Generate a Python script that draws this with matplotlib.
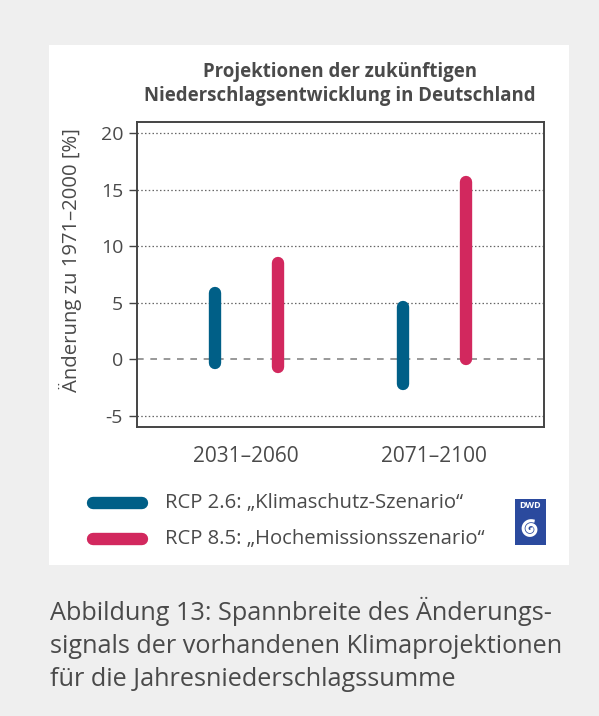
#!/usr/bin/env python3

import numpy as np
import matplotlib.pyplot as plt
from matplotlib.lines import Line2D
from matplotlib.patches import Rectangle

# data (range of change in %)
periods = ["2031–2060", "2071–2100"]
rcp26_low = [-0.3, -2.2]
rcp26_high = [5.9, 4.6]
rcp85_low = [-0.7, 0.0]
rcp85_high = [8.5, 15.7]
yticks = [-5, 0, 5, 10, 15, 20]
legend_labels = ["RCP 2.6: „Klimaschutz-Szenario“", "RCP 8.5: „Hochemissionsszenario“"]

BLUE = "#005f87"
RED = "#d2285e"
TXT = "#4a4a4a"
plt.rcParams['font.family'] = ['Open Sans', 'DejaVu Sans']

W, H = 599, 716
fig = plt.figure(figsize=(W / 100, H / 100), dpi=100, facecolor="#efefef")

# white panel
fig.add_artist(Rectangle((49 / W, 1 - 565 / H), 520 / W, 520 / H, transform=fig.transFigure,
                         facecolor="white", edgecolor="none", zorder=0))

ax = fig.add_axes([137 / W, 1 - 427 / H, 406.5 / W, 305 / H])
ax.set_facecolor("white")
x = np.arange(len(periods))
off = 0.167
for i in x:
    ax.plot([i - off, i - off], [rcp26_low[i], rcp26_high[i]], color=BLUE, lw=8.9,
            solid_capstyle="round", zorder=3)
    ax.plot([i + off, i + off], [rcp85_low[i], rcp85_high[i]], color=RED, lw=8.9,
            solid_capstyle="round", zorder=3)

ax.set_xlim(-0.58, 1.58)
ax.set_ylim(-6, 21)
ax.set_yticks(yticks)
ax.set_yticklabels([str(v) for v in yticks])
ax.set_xticks(x)
ax.set_xticklabels(periods)
for v in yticks:
    if v == 0:
        ax.axhline(v, color="#888888", lw=1.2, ls=(0, (4, 4)), zorder=1)
    else:
        ax.axhline(v, color="#666666", lw=0.9, ls=(0, (1.2, 1.8)), zorder=1)

for s in ax.spines.values():
    s.set_color("#444444")
    s.set_linewidth(1.4)
ax.tick_params(axis="y", length=6, width=1, color="#444444", labelsize=14, labelcolor=TXT, pad=4)
ax.tick_params(axis="x", length=0, labelsize=15, labelcolor=TXT, pad=14)
ax.set_ylabel("Änderung zu 1971–2000 [%]", fontsize=14.6, color=TXT)
ax.yaxis.set_label_coords(-0.135, 0.548)

fig.text(340 / W, 1 - 84 / H, "Projektionen der zukünftigen\nNiederschlagsentwicklung in Deutschland",
         ha="center", va="center", fontsize=13.4, fontweight="bold", color=TXT, linespacing=1.3)

# legend
for k, (col, lab) in enumerate(zip([BLUE, RED], legend_labels)):
    yy = 1 - (503 + 36 * k) / H
    fig.add_artist(Line2D([93 / W, 142 / W], [yy, yy], transform=fig.transFigure, color=col,
                          lw=8.9, solid_capstyle="round"))
    fig.text(165 / W, yy, lab, ha="left", va="center", fontsize=14.6, color=TXT)

# DWD logo
fig.add_artist(Rectangle((515 / W, 1 - 545 / H), 31 / W, 46 / H, transform=fig.transFigure,
                         facecolor="#2b4a9e", edgecolor="none"))
fig.text(530.5 / W, 1 - 506 / H, "DWD", ha="center", va="center", fontsize=6.5,
         fontweight="bold", color="white")
t = np.linspace(0, 3.6 * np.pi, 200)
r = 1.5 + 7.0 * t / (3.6 * np.pi)
fig.add_artist(Line2D((530.5 + r * np.cos(t)) / W, (1 - (529 + r * np.sin(t)) / H),
                      transform=fig.transFigure, color="white", lw=2.2))

fig.text(50 / W, 1 - 644 / H,
         "Abbildung 13: Spannbreite des Änderungs-\nsignals der vorhandenen Klimaprojektionen\nfür die Jahresniederschlagssumme",
         ha="left", va="center", fontsize=18.2, color=TXT, linespacing=1.42)

fig.savefig("out.png", dpi=100, facecolor=fig.get_facecolor())
